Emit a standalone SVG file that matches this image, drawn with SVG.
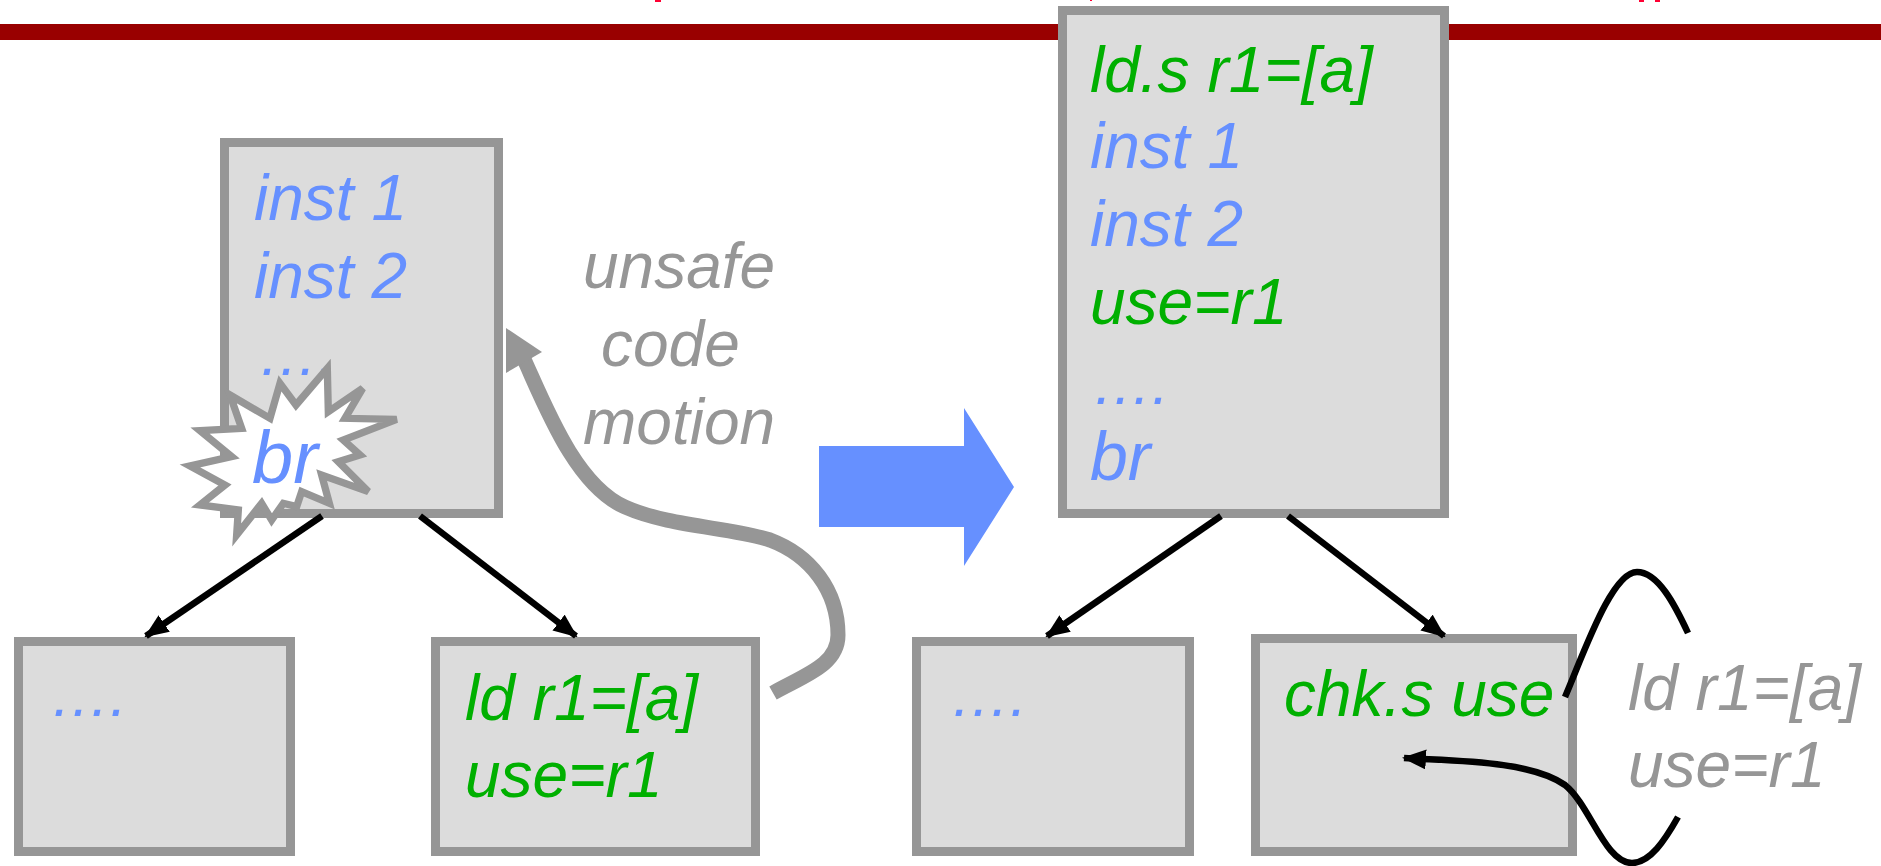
<svg xmlns="http://www.w3.org/2000/svg" width="1881" height="866" viewBox="0 0 1881 866">
<style>
.box{fill:#dcdcdc;stroke:#969696;stroke-width:9}
text{font-family:"Liberation Sans",Arial,sans-serif;font-style:italic;font-size:64px}
.b{fill:#6690ff}.g{fill:#00b000}.y{fill:#969696}
.d{font-size:60px}
.c{fill:none;stroke:#000;stroke-width:6.500}
</style>
<defs>
<marker id="ah" markerUnits="userSpaceOnUse" markerWidth="24" markerHeight="20" refX="22" refY="10" orient="auto"><path d="M0 0L24 10L0 20Z" fill="#000"/></marker>
</defs>
<rect width="1881" height="866" fill="#fff"/>
<rect x="0" y="24" width="1881" height="16" fill="#990000"/>
<rect x="655" y="0" width="6" height="2" fill="#ff0033"/><rect x="1090" y="0" width="2" height="1" fill="#ff0033"/><rect x="1639" y="0" width="5" height="2" fill="#ff0033"/><rect x="1655" y="0" width="5" height="2" fill="#ff0033"/>
<g id="n-top-left"><rect class="box" x="224.500" y="142.500" width="274" height="371"/>
<text class="b" x="254" y="220">inst 1</text><text class="b" x="254" y="298">inst 2</text><text class="b d" x="258" y="375">….</text></g>
<g id="n-burst"><polygon transform="translate(170 340) scale(.3333)" fill="#fff" stroke="#969696" stroke-width="22" points="180,165 300,235 330,130 378,195 472,85 475,215 578,145 525,235 680,238 520,300 570,345 505,365 595,455 455,405 478,490 395,455 380,500 340,490 305,540 275,490 200,585 205,510 90,495 165,435 60,378 185,350 90,272 215,265"/>
<text class="b" x="252" y="483" style="font-size:74px">br</text></g>
<g id="n-left"><rect class="box" x="18.500" y="641.500" width="272" height="210"/><text class="b d" x="50" y="716">….</text></g>
<g id="n-mid"><rect class="box" x="435.500" y="641.500" width="320" height="210"/><text class="g" x="465" y="720">ld r1=[a]</text><text class="g" x="465" y="797">use=r1</text></g>
<g id="n-top-right"><rect class="box" x="1062.500" y="10.500" width="382" height="503"/>
<text class="g" x="1090" y="92">ld.s r1=[a]</text><text class="b" x="1090" y="168">inst 1</text><text class="b" x="1090" y="246">inst 2</text><text class="g" x="1090" y="324">use=r1</text><text class="b d" x="1092" y="404">….</text><text class="b" x="1090" y="480" style="font-size:68px">br</text></g>
<g id="n-right1"><rect class="box" x="916.500" y="641.500" width="273" height="210"/><text class="b d" x="950" y="716">….</text></g>
<g id="n-right2"><rect class="box" x="1255.500" y="638.500" width="317" height="213"/><text class="g" x="1284" y="716">chk.s use</text></g>
<g id="connectors">
<path class="c" marker-end="url(#ah)" d="M322 516L146 636"/>
<path class="c" marker-end="url(#ah)" d="M420 516L576 636"/>
<path class="c" marker-end="url(#ah)" d="M1221 516L1047 636"/>
<path class="c" marker-end="url(#ah)" d="M1288 516L1444 636"/>
<path class="c" d="M1565 697C1585 650 1612 572 1637 572C1658 572 1675 605 1688 633"/>
<path class="c" marker-end="url(#ah)" d="M1678 817C1665 840 1650 863 1632 863C1605 863 1590 805 1565 785C1530 760 1450 761 1404 758"/>
<path d="M773 693C805 675 838 665 838 635C838 590 810 555 770 540C730 527 670 527 625 507C575 485 545 405 523 357" fill="none" stroke="#969696" stroke-width="15"/>
<path d="M506 328L542 352L506 373Z" fill="#969696"/>
</g>
<path id="big-arrow" d="M819 446H964V408L1014 487L964 566V527H819Z" fill="#6690ff"/>
<g id="labels"><text class="y" x="583" y="288">unsafe</text><text class="y" x="601" y="366">code</text><text class="y" x="583" y="444">motion</text>
<text class="y" x="1628" y="710">ld r1=[a]</text><text class="y" x="1628" y="787">use=r1</text></g>
</svg>
